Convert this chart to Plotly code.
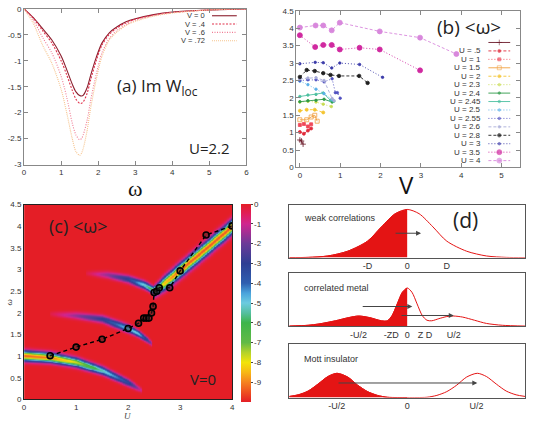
import numpy as np
import plotly.graph_objects as go

W, H = 534, 427

# ---------------- (a) Im W_loc vs omega ----------------
a_omega = [0, 0.25, 0.5, 0.75, 1.0, 1.15, 1.3, 1.4, 1.5, 1.55, 1.6, 1.7, 1.8, 1.95, 2.1, 2.3, 2.5, 2.75, 3.0, 3.5, 4.0, 5.0, 6.0]
a_V0 = [0, -0.17, -0.38, -0.60, -0.91, -1.17, -1.45, -1.60, -1.67, -1.68, -1.66, -1.52, -1.27, -0.93, -0.66, -0.46, -0.35, -0.25, -0.19, -0.11, -0.06, -0.02, 0]
a_V04 = [0, -0.18, -0.42, -0.66, -1.00, -1.27, -1.57, -1.74, -1.82, -1.82, -1.79, -1.63, -1.36, -0.99, -0.70, -0.49, -0.37, -0.27, -0.20, -0.12, -0.07, -0.02, 0]
a_V06 = [0, -0.22, -0.55, -0.85, -1.30, -1.70, -2.20, -2.43, -2.52, -2.50, -2.42, -2.15, -1.75, -1.25, -0.85, -0.57, -0.42, -0.30, -0.22, -0.13, -0.07, -0.02, 0]
a_V072 = [0, -0.28, -0.70, -1.05, -1.55, -2.00, -2.50, -2.75, -2.82, -2.78, -2.68, -2.35, -1.90, -1.35, -0.92, -0.60, -0.45, -0.32, -0.24, -0.14, -0.08, -0.02, 0]
a_labels = ["V = 0", "V = .4", "V = .6", "V = .72"]
a_colors = ["#8b1e2e", "#e0304a", "#f07c94", "#f6c48e"]
a_dashes = ["solid", "2px,1.5px", "1px,1.5px", "1px,1px"]
a_yticks = [0, -0.5, -1, -1.5, -2, -2.5, -3]
a_yticktext = ["0", "-0.5", "-1", "-1.5", "-2", "-2.5", "-3"]

# ---------------- (b) <omega> vs V ----------------
b_labels = ["", "U = .5", "U = 1", "U = 1.5", "U = 2", "U = 2.3", "U = 2.4", "U = 2.45",
            "U = 2.5", "U = 2.55", "U = 2.6", "U = 2.8", "U = 3", "U = 3.5", "U = 4"]
b_V = [
    [0, 0.04, 0.08],
    [0, 0.1, 0.2, 0.28],
    [0, 0.1, 0.2, 0.28],
    [0, 0.17, 0.28, 0.37, 0.43],
    [0, 0.17, 0.37, 0.58],
    [0, 0.2, 0.4, 0.58, 0.78],
    [0, 0.2, 0.4, 0.6, 0.8],
    [0, 0.2, 0.4, 0.58, 0.76, 0.84],
    [0, 0.2, 0.4, 0.6, 0.8],
    [0, 0.2, 0.4, 0.6, 0.8, 0.88, 0.93, 1.0],
    [0, 0.2, 0.4, 0.6, 0.8, 0.85],
    [0, 0.17, 0.37, 0.58, 0.76, 0.97, 1.47, 1.68],
    [0, 0.38, 0.58, 0.79, 0.99, 1.48, 2.05],
    [0, 0.38, 0.58, 0.79, 0.99, 1.48, 1.98, 2.98],
    [0, 0.39, 0.58, 0.79, 0.99, 1.98, 2.98, 3.88],
]
b_W = [
    [0.79, 0.76, 0.67],
    [1.02, 0.97, 1.06, 1.12],
    [1.22, 1.25, 1.18, 1.24],
    [1.37, 1.37, 1.45, 1.50, 1.33],
    [1.63, 1.66, 1.66, 1.58],
    [1.88, 1.90, 1.88, 1.82, 1.75],
    [1.89, 1.92, 1.93, 1.96, 1.88],
    [2.04, 2.08, 2.10, 2.14, 1.93, 1.90],
    [2.48, 2.38, 2.25, 2.12, 1.95],
    [2.50, 2.52, 2.52, 2.46, 2.55, 2.15, 2.15, 1.99],
    [2.55, 2.57, 2.58, 2.50, 1.98, 1.92],
    [2.60, 2.80, 2.77, 2.71, 2.66, 2.63, 2.63, 2.43],
    [2.98, 3.02, 3.01, 2.86, 3.00, 2.96, 2.59],
    [3.80, 3.46, 3.52, 3.52, 3.39, 3.44, 3.39, 2.79],
    [4.02, 4.08, 4.08, 3.94, 4.16, 3.91, 3.73, 3.26],
]
b_colors = ["#6b1a2a", "#e02a3a", "#f04858", "#f0a040", "#f4c430", "#c8dc50", "#2e9a48", "#4cc0a0",
            "#5ab0e8", "#5050c0", "#a8acd8", "#202020", "#3a3aa8", "#d02aa0", "#d888dc"]
b_dashes = ["solid", "3px,2px", "1px,2px", "solid", "3px,2px", "1px,2px", "solid", "solid",
            "1px,2px", "1px,2px", "3px,2px", "3px,2px", "1px,2px", "1px,2px", "3px,2px"]
b_symbols = ["cross-thin-open", "circle", "square", "square-open", "circle", "circle", "circle", "circle",
             "circle", "circle", "circle", "circle", "circle", "circle", "circle"]
b_msizes = [4, 3, 3, 4, 3, 2.5, 2.5, 2.5, 2.5, 2.5, 2.5, 3.5, 2.5, 5, 5]

# ---------------- (c) heat map bands and <omega> line ----------------
c1_U = [0.0, 0.5, 1.0, 1.5, 2.0, 2.25]
c1_center = [1.01, 0.97, 0.86, 0.67, 0.39, 0.22]
c1_depth = [9.4, 9.1, 7.8, 5.4, 3.3, 0.9]
c1_sigma = [0.075, 0.072, 0.068, 0.062, 0.055, 0.04]

c2_U = [0.5, 1.0, 1.5, 2.0, 2.2, 2.45]
c2_center = [1.98, 1.94, 1.86, 1.64, 1.52, 1.30]
c2_depth = [0.3, 1.6, 3.0, 5.0, 5.0, 1.5]
c2_sigma = [0.04, 0.055, 0.058, 0.058, 0.05, 0.04]

c3_U = [1.2, 1.6, 2.0, 2.3, 2.5]
c3_center = [2.92, 2.88, 2.78, 2.65, 2.52]
c3_depth = [0.3, 1.6, 3.2, 5.2, 6.6]
c3_sigma = [0.04, 0.055, 0.058, 0.058, 0.055]

c4_U = [2.5, 2.7, 3.0, 3.5, 4.0]
c4_center = [2.50, 2.69, 2.99, 3.49, 4.00]
c4_depth = [5.5, 8.5, 9.3, 9.4, 9.4]
c4_sigma = [0.08, 0.1, 0.105, 0.105, 0.105]

c_U = [0.5, 1.0, 1.5, 2.0, 2.2, 2.3, 2.35, 2.4, 2.45, 2.48, 2.5, 2.55, 2.6, 2.8, 3.0, 3.5, 4.0]
c_W = [1.01, 1.21, 1.39, 1.64, 1.76, 1.88, 1.88, 1.88, 2.00, 2.15, 2.47, 2.50, 2.58, 2.58, 2.97, 3.80, 4.01]
c_ticks = [0, -1, -2, -3, -4, -5, -6, -7, -8, -9]
c_ticktext = ["0", "-1", "-2", "-3", "-4", "-5", "-6", "-7", "-8", "-9"]

# ---------------- (d) schematic spectra ----------------
d1_x = [-2.975, -2.5, -2.0, -1.5, -1.0, -0.65, -0.3, 0, 0.3, 0.65, 1.0, 1.5, 2.0, 2.5, 2.975]
d1_y = [0, 0.003, 0.03, 0.12, 0.31, 0.58, 0.83, 0.91, 0.83, 0.58, 0.31, 0.12, 0.03, 0.003, 0]
d2_x = [-2.975, -2.5, -2.225, -1.81, -1.475, -1.225, -0.95, -0.65, -0.5, -0.38, -0.25, -0.12, 0,
        0.12, 0.25, 0.38, 0.5, 0.62, 0.8, 1.0, 1.175, 1.4, 1.7, 2.0, 2.4, 2.975]
d2_y = [0, 0.015, 0.04, 0.10, 0.16, 0.19, 0.16, 0.10, 0.10, 0.20, 0.42, 0.64, 0.72,
        0.64, 0.42, 0.20, 0.11, 0.10, 0.14, 0.18, 0.19, 0.17, 0.11, 0.05, 0.015, 0]
d3_x = [-2.975, -2.75, -2.5, -2.25, -2.0, -1.77, -1.5, -1.25, -1.0, -0.75, -0.5, -0.25, 0,
        0.25, 0.5, 0.75, 1.0, 1.25, 1.5, 1.77, 2.0, 2.25, 2.5, 2.75, 2.975]
d3_y = [0.02, 0.05, 0.12, 0.25, 0.39, 0.45, 0.38, 0.23, 0.11, 0.04, 0.005, 0, 0,
        0, 0.005, 0.04, 0.11, 0.23, 0.38, 0.45, 0.39, 0.25, 0.12, 0.05, 0.02]
d1_ticks, d1_text = [-1, 0, 1], ["-D", "0", "D"]
d2_ticks, d2_text = [-1.225, -0.4, 0, 0.45, 1.175], ["-U/2", "-ZD", "0", "Z D", "U/2"]
d3_ticks, d3_text = [-1.775, 0, 1.75], ["-U/2", "0", "U/2"]
d_titles = ["weak correlations", "correlated metal", "Mott insulator"]
d_arrows = [  # (axis index, x_tail, x_head, y)
    (4, -0.33, 0.35, 0.46),
    (5, -1.16, 0.13, 0.37),
    (5, -0.18, 1.175, 0.20),
    (6, -1.77, 1.77, 0.27),
]


def dx(p0, p1):
    return [p0 / W, p1 / W]


def dy(p0, p1):
    return [1 - p1 / H, 1 - p0 / H]


fig = go.Figure()
TICKF = dict(family="Liberation Sans", size=8, color="#333")

# ---- panel (a)
for ys, lab, col, ds in zip([a_V0, a_V04, a_V06, a_V072], a_labels, a_colors, a_dashes):
    fig.add_trace(go.Scatter(x=a_omega, y=ys, mode="lines", line=dict(color=col, width=1.1, dash=ds, shape="spline", smoothing=0.8),
                             xaxis="x", yaxis="y", showlegend=False))

# ---- panel (b)
for vs, ws, col, ds, sym, ms in zip(b_V, b_W, b_colors, b_dashes, b_symbols, b_msizes):
    fig.add_trace(go.Scatter(x=vs, y=ws, mode="lines+markers", line=dict(color=col, width=0.9, dash=ds),
                             marker=dict(symbol=sym, size=ms, color=col, line=dict(color=col, width=0.8)),
                             xaxis="x2", yaxis="y2", showlegend=False))

# ---- panel (c) heatmap
U_grid = np.linspace(0, 4, 321)
w_grid = np.linspace(0, 4.5, 451)
Z = np.zeros((len(w_grid), len(U_grid)))
for bU, bc, bd, bs in [(c1_U, c1_center, c1_depth, c1_sigma), (c2_U, c2_center, c2_depth, c2_sigma),
                       (c3_U, c3_center, c3_depth, c3_sigma), (c4_U, c4_center, c4_depth, c4_sigma)]:
    mask = (U_grid >= bU[0]) & (U_grid <= bU[-1])
    c = np.interp(U_grid, bU, bc)
    d = np.where(mask, np.interp(U_grid, bU, bd), 0.0)
    s = np.interp(U_grid, bU, bs)
    Z -= d[None, :] * np.exp(-(w_grid[:, None] - c[None, :]) ** 2 / (2 * s[None, :] ** 2))
Z = np.clip(Z, -9.99, 0)

hsv_scale = [
    [0.0, "#e41e26"], [0.05, "#ee5020"], [0.10, "#f58220"], [0.15, "#f7b815"], [0.20, "#f2e40a"],
    [0.25, "#b4d22a"], [0.30, "#62ba46"], [0.40, "#3db54a"], [0.45, "#55bfa0"], [0.50, "#6ccbe0"],
    [0.55, "#4aa3dc"], [0.60, "#2f5fb0"], [0.70, "#2e3f93"], [0.80, "#6b3a98"], [0.90, "#d0268f"],
    [0.95, "#e01e5a"], [1.0, "#e41e26"],
]
fig.add_trace(go.Heatmap(x=U_grid, y=w_grid, z=Z, zmin=-10, zmax=0, colorscale=hsv_scale, zsmooth="best",
                         xaxis="x3", yaxis="y3",
                         colorbar=dict(x=241 / W, xanchor="left", y=1 - 305.5 / H, yanchor="middle",
                                       len=198, lenmode="pixels", thickness=10, thicknessmode="pixels",
                                       tickvals=c_ticks, ticktext=c_ticktext, tickfont=TICKF,
                                       outlinewidth=0, ticks="outside", ticklen=2, xpad=0, ypad=0)))
fig.add_trace(go.Scatter(x=c_U, y=c_W, mode="lines+markers", line=dict(color="black", width=1.4, dash="4px,3px"),
                         marker=dict(symbol="circle", size=6, color="rgba(40,40,40,0.45)", line=dict(width=1.6, color="black")),
                         xaxis="x3", yaxis="y3", showlegend=False))

# ---- panel (d)
RED = "#e41414"
for k, (xs, ys) in enumerate([(d1_x, d1_y), (d2_x, d2_y), (d3_x, d3_y)]):
    ax = str(4 + k)
    xl = [x for x in xs if x <= 0]
    yl = [y for x, y in zip(xs, ys) if x <= 0]
    fig.add_trace(go.Scatter(x=xl, y=yl, mode="lines", fill="tozeroy", fillcolor=RED,
                             line=dict(color=RED, width=1, shape="spline", smoothing=0.8),
                             xaxis="x" + ax, yaxis="y" + ax, showlegend=False))
    fig.add_trace(go.Scatter(x=xs, y=ys, mode="lines", line=dict(color=RED, width=1, shape="spline", smoothing=0.8),
                             xaxis="x" + ax, yaxis="y" + ax, showlegend=False))

# ---- legend samples on a pixel overlay axis
a_rows = [12, 20.5, 29, 37.5]
for py, col, ds in zip(a_rows, a_colors, a_dashes):
    fig.add_trace(go.Scatter(x=[212, 237], y=[py, py], mode="lines", line=dict(color=col, width=1.1, dash=ds),
                             xaxis="x7", yaxis="y7", showlegend=False))
b_rows = [39.3 + 8.62 * i for i in range(len(b_labels))]
for py, col, ds, sym, ms in zip(b_rows, b_colors, b_dashes, b_symbols, b_msizes):
    fig.add_trace(go.Scatter(x=[491, 502, 513], y=[py, py, py], mode="lines+markers",
                             line=dict(color=col, width=0.9, dash=ds),
                             marker=dict(symbol=sym, size=[0, ms, 0], color=col, line=dict(color=col, width=0.8)),
                             xaxis="x7", yaxis="y7", showlegend=False))

GRAY = "#888"
common_box = dict(showline=True, linecolor=GRAY, linewidth=1, mirror="ticks", ticks="inside", ticklen=4,
                  tickcolor=GRAY, showgrid=False, zeroline=False, tickfont=TICKF)
layout = dict(
    width=W, height=H, autosize=False, margin=dict(l=0, r=0, t=0, b=0),
    paper_bgcolor="white", plot_bgcolor="rgba(0,0,0,0)",
    font=dict(family="Liberation Sans", color="#222"),
    showlegend=False,
    xaxis=dict(domain=dx(22.3, 246.7), range=[0, 6], tickvals=[0, 1, 2, 3, 4, 5, 6], anchor="y", **common_box),
    yaxis=dict(domain=dy(5, 164), range=[-3, 0], tickvals=a_yticks, ticktext=a_yticktext, anchor="x", **common_box),
    xaxis2=dict(domain=dx(297, 523), range=[-0.09, 5.46], tickvals=[0, 1, 2, 3, 4, 5], anchor="y2", **common_box),
    yaxis2=dict(domain=dy(7, 167), range=[0, 4.5], tickvals=[0, 0.5, 1, 1.5, 2, 2.5, 3, 3.5, 4, 4.5],
                ticktext=["0", "0.5", "1", "1.5", "2", "2.5", "3", "3.5", "4", "4.5"], anchor="x2", **common_box),
    xaxis3=dict(domain=dx(22.3, 232.3), range=[0, 4], tickvals=[0, 1, 2, 3, 4], anchor="y3", showline=True,
                linecolor="#222", mirror=True, ticks="", showgrid=False, zeroline=False, tickfont=TICKF),
    yaxis3=dict(domain=dy(205, 404), range=[0, 4.5], tickvals=[0, 0.5, 1, 1.5, 2, 2.5, 3, 3.5, 4, 4.5],
                ticktext=["0", "0.5", "1", "1.5", "2", "2.5", "3", "3.5", "4", "4.5"], anchor="x3",
                showline=True, linecolor="#222", mirror=True, ticks="", showgrid=False, zeroline=False, tickfont=TICKF),
    xaxis7=dict(domain=[0, 1], range=[0, W], visible=False, anchor="y7"),
    yaxis7=dict(domain=[0, 1], range=[H, 0], visible=False, anchor="x7"),
)
d_doms = [(205, 259), (275, 329), (347, 402)]
for k, ((p0, p1), tv, tt) in enumerate(zip(d_doms, [d1_ticks, d2_ticks, d3_ticks], [d1_text, d2_text, d3_text])):
    n = str(4 + k)
    layout["xaxis" + n] = dict(domain=dx(290, 528), range=[-2.975, 2.975], tickvals=tv, ticktext=tt, anchor="y" + n,
                               showline=True, linecolor="#555", mirror=True, ticks="", showgrid=False, zeroline=False,
                               tickfont=dict(family="Liberation Sans", size=9, color="#333"))
    layout["yaxis" + n] = dict(domain=dy(p0, p1), range=[0, 1], anchor="x" + n, showline=True, linecolor="#555",
                               mirror=True, ticks="", showticklabels=False, showgrid=False, zeroline=False)
fig.update_layout(**layout)

ann = []


def txt(x, y, s, size, family="Liberation Sans", color="#222", xanchor="center", **kw):
    ann.append(dict(x=x / W, y=1 - y / H, xref="paper", yref="paper", text=s, showarrow=False,
                    font=dict(family=family, size=size, color=color), xanchor=xanchor, yanchor="middle", **kw))


# panel (a) texts
txt(157, 84, "(a) Im W<sub>loc</sub>", 17, family="Open Sans")
txt(209, 147, "U=2.2", 15, family="Open Sans")
txt(134, 188, "ω", 22, family="Liberation Serif", color="#111")
for py, lab in zip(a_rows, a_labels):
    txt(207, py, lab, 7.5, color="#333", xanchor="right")
# panel (b) texts
txt(471, 24, "(b) &lt;ω&gt;", 19, family="Open Sans")
txt(408, 184, "V", 24, family="Open Sans", color="#111")
for py, lab in zip(b_rows, b_labels):
    if lab:
        txt(486, py, lab, 8, color="#333", xanchor="right")
# panel (c) texts
txt(77, 227, "(c) &lt;ω&gt;", 18, family="Open Sans")
txt(203, 383, "V=0", 15, family="Open Sans")
txt(127, 421, "<i>U</i>", 9, family="Liberation Serif", color="#444")
txt(7, 305, "<i>ω</i>", 9, family="Liberation Serif", color="#444", textangle=-90)
# panel (d) texts
for py, lab in zip([219, 290, 363], d_titles):
    txt(303, py, lab, 9, color="#333", xanchor="left")
txt(468, 221, "(d)", 21, family="Open Sans")

for axi, x0, x1, yv in d_arrows:
    ann.append(dict(x=x1, y=yv, ax=x0, ay=yv, xref="x%d" % axi, yref="y%d" % axi, axref="x%d" % axi,
                    ayref="y%d" % axi, text="", showarrow=True, arrowhead=2, arrowsize=1, arrowwidth=1,
                    arrowcolor="#444", standoff=0, startstandoff=0))

fig.update_layout(annotations=ann)
fig.write_html("out.html")
